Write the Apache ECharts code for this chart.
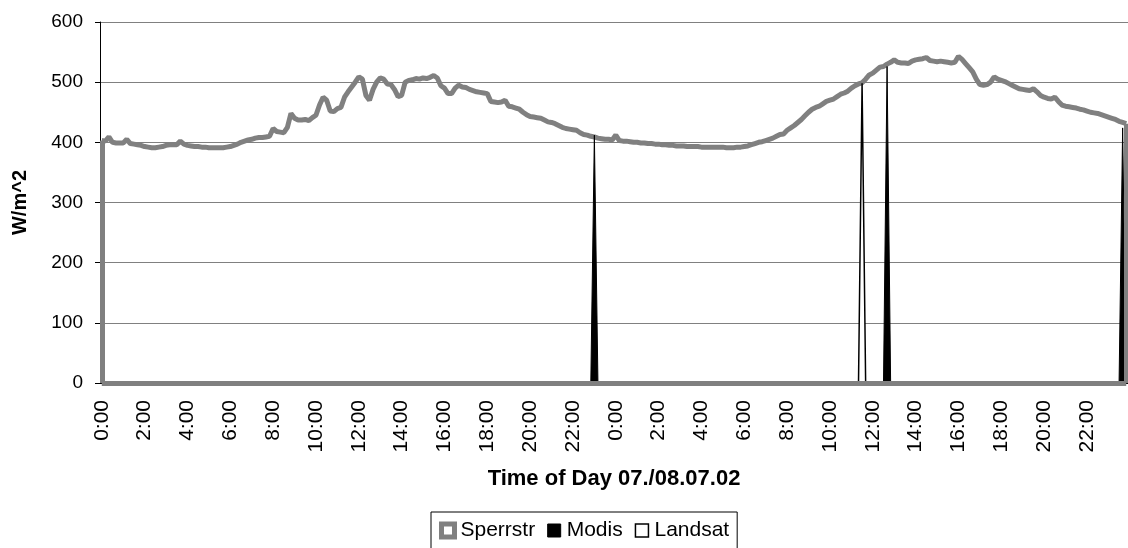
<!DOCTYPE html>
<html>
<head>
<meta charset="utf-8">
<script src="https://cdn.jsdelivr.net/npm/echarts@6/dist/echarts.min.js"></script>
<style>
html,body{margin:0;padding:0;background:#fff;}
#chart{width:1128px;height:548px;}
</style>
</head>
<body>
<div id="chart"></div>
<script>
// Category labels: 10-minute steps over two days (07./08.07.02)
var categories = [];
for (var d = 0; d < 2; d++) {
  for (var h = 0; h < 24; h++) {
    for (var m = 0; m < 60; m += 10) {
      categories.push(h + ':' + (m < 10 ? '0' + m : m));
    }
  }
}

var sperrstr = [
  // day 1
  403,402,409,400,399,399,   399,405,398,397,396,395,
  393,392,391,391,392,393,   395,396,396,396,402,397,
  395,394,393,393,392,392,   391,391,391,391,391,392,
  393,395,397,400,402,404,   405,407,408,408,409,410,
  423,418,417,416,425,448,   440,437,437,438,436,441,
  445,462,475,470,452,451,   456,458,475,484,492,500,
  509,505,478,470,488,500,   507,505,497,496,488,476,
  478,500,503,504,506,505,   507,506,508,511,507,494,
  490,481,481,490,495,492,   491,488,486,484,483,482,
  481,468,467,466,467,470,   460,459,457,455,450,446,
  443,442,441,440,437,434,   433,431,428,425,423,422,
  421,420,416,413,412,410,   409,407,406,405,405,404,
  // day 2
  412,403,402,402,401,400,   400,399,399,398,398,397,
  397,396,396,395,395,394,   394,394,393,393,393,393,
  392,392,392,392,392,392,   392,391,391,391,392,392,
  393,394,396,398,400,401,   403,405,407,410,413,414,
  420,424,428,433,438,444,   450,455,458,460,464,468,
  470,472,476,480,482,485,   490,494,497,499,505,512,
  515,520,525,526,530,533,   537,533,532,532,531,535,
  537,538,539,541,536,535,   534,535,534,533,532,533,
  543,538,531,524,517,505,   496,495,496,500,509,505,
  503,501,498,495,492,489,   488,487,486,489,484,478,
  475,473,472,475,468,462,   460,459,458,457,455,454,
  452,450,449,448,446,444,   442,440,438,435,433,431
];

// Satellite estimates: [category index, value]; zero outside the overpass
var modis = [[137,0],[138,412],[139,0],[219,0],[220,526],[221,0],[285,0],[286,424],[287,0]];
var landsat = [[212,0],[213,498],[214,0]];

var yTicks = [0,100,200,300,400,500,600];

var chart = echarts.init(document.getElementById('chart'), null, {renderer:'canvas'});
var FONT = '"Liberation Sans", Arial, sans-serif';
var last = sperrstr.length - 1;

chart.setOption({
  animation: false,
  backgroundColor: '#fff',
  textStyle: {fontFamily: FONT},
  grid: {left: 100, right: 0, top: 22, bottom: 165},
  legend: {
    top: 512,
    left: 431,
    padding: [8, 8, 30, 8],
    borderColor: '#000',
    borderWidth: 1,
    itemGap: 12,
    itemWidth: 13,
    itemHeight: 13,
    textStyle: {fontFamily: FONT, fontSize: 21, color: '#000', padding: [0,0,0,1]},
    data: [
      {name: 'Sperrstr', icon: 'rect', itemStyle: {color: '#fff', borderColor: '#808080', borderWidth: 5}},
      {name: 'Modis', icon: 'rect', itemStyle: {color: '#000', borderColor: '#000', borderWidth: 1}},
      {name: 'Landsat', icon: 'rect', itemStyle: {color: '#fff', borderColor: '#000', borderWidth: 1.5}}
    ]
  },
  xAxis: {
    type: 'category',
    data: categories,
    boundaryGap: true,
    name: 'Time of Day 07./08.07.02',
    nameLocation: 'middle',
    nameGap: 85,
    nameTextStyle: {fontFamily: FONT, fontSize: 22, fontWeight: 'bold', color: '#000'},
    axisLine: {lineStyle: {color: '#000', width: 1}},
    axisTick: {interval: 0, length: 5, lineStyle: {color: '#000', width: 1}},
    axisLabel: {interval: 11, rotate: 90, fontSize: 21, color: '#000', margin: 17, fontFamily: FONT},
    splitLine: {show: false}
  },
  yAxis: {
    type: 'value',
    min: 0, max: 600, interval: 100,
    name: 'W/m^2',
    nameLocation: 'middle',
    nameGap: 70,
    nameTextStyle: {fontFamily: FONT, fontSize: 20, fontWeight: 'bold', color: '#000'},
    axisLine: {show: true, lineStyle: {color: '#000', width: 1}},
    axisTick: {show: true, length: 5, lineStyle: {color: '#000'}},
    axisLabel: {fontSize: 19, color: '#000', margin: 17, fontFamily: FONT,
      formatter: function (v) { return yTicks.indexOf(v) >= 0 ? String(v) : ''; }},
    splitLine: {lineStyle: {color: '#808080', width: 1.2}}
  },
  series: [
    {
      name: 'Sperrstr',
      type: 'line',
      data: sperrstr,
      showSymbol: false,
      symbol: 'none',
      itemStyle: {color: '#808080'},
      lineStyle: {color: '#808080', width: 5},
      clip: false,
      z: 2,
      markLine: {
        silent: true,
        symbol: ['none', 'none'],
        label: {show: false},
        lineStyle: {color: '#808080', width: 5, type: 'solid'},
        data: [
          [{coord: [0, 0]}, {coord: [0, sperrstr[0]]}],
          [{coord: [0, 0]}, {coord: [last, 0]}],
          [{coord: [last, 0]}, {coord: [last, sperrstr[last]]}]
        ]
      }
    },
    {
      name: 'Modis',
      type: 'line',
      data: modis,
      showSymbol: false,
      symbol: 'none',
      itemStyle: {color: '#000'},
      lineStyle: {color: '#000', width: 1},
      areaStyle: {color: '#000', opacity: 1},
      z: 3
    },
    {
      name: 'Landsat',
      type: 'line',
      data: landsat,
      showSymbol: false,
      symbol: 'none',
      itemStyle: {color: '#fff', borderColor: '#000'},
      lineStyle: {color: '#000', width: 1.5},
      areaStyle: {color: '#fff', opacity: 1},
      z: 3
    }
  ]
});
</script>
</body>
</html>
